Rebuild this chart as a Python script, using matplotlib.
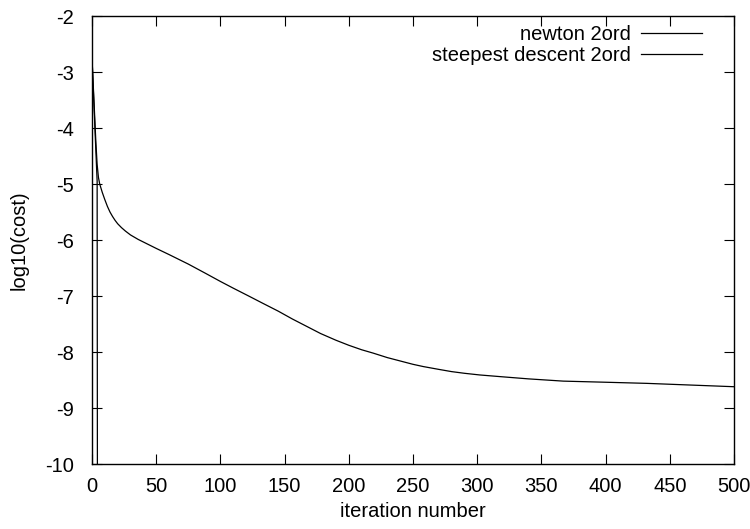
import numpy as np
import matplotlib
matplotlib.use('Agg')
import matplotlib.pyplot as plt

plt.rcParams['font.family'] = ['Liberation Sans', 'DejaVu Sans']
plt.rcParams['axes.unicode_minus'] = False

# newton 2ord (drops off the bottom of the plot after a few iterations)
newton_it = [0, 1, 2, 3, 4, 5]
newton_cost = [-2.75, -3.3, -3.85, -4.4, -4.95, -30.0]

# steepest descent 2ord
sd_it = [0, 1, 2, 3, 4, 5, 6, 8, 10, 12, 14, 16, 18, 20, 23, 26, 30, 36,
         43, 50, 60, 75, 88, 100, 110, 122, 133, 145, 156, 167, 178, 190,
         200, 210, 219, 230, 240, 250, 258, 270, 280, 290, 302, 318, 340,
         367, 400, 432, 466, 500]
sd_cost = [-2.75, -3.25, -3.75, -4.25, -4.65, -4.88, -5.0, -5.15, -5.28,
           -5.4, -5.5, -5.58, -5.65, -5.71, -5.78, -5.84, -5.91, -5.99,
           -6.07, -6.15, -6.26, -6.43, -6.59, -6.74, -6.86, -7.0, -7.13,
           -7.27, -7.41, -7.54, -7.67, -7.79, -7.88, -7.96, -8.02, -8.1,
           -8.16, -8.22, -8.26, -8.31, -8.35, -8.38, -8.41, -8.44, -8.48,
           -8.52, -8.54, -8.56, -8.59, -8.62]

fs = 14.5

fig = plt.figure(figsize=(7.5, 5.29), dpi=100)
ax = fig.add_axes([92/750, 1 - 464/529, (734-92)/750, (464-16)/529])

ax.plot(newton_it, newton_cost, color='black', lw=0.9, label='newton 2ord')
ax.plot(sd_it, sd_cost, color='black', lw=0.9, label='steepest descent 2ord')

ax.set_xlim(0, 500)
ax.set_ylim(-10, -2)
ax.set_xticks(np.arange(0, 501, 50))
ax.set_yticks(np.arange(-10, -1, 1))
ax.tick_params(direction='in', length=7, width=0.8, top=True, right=True,
               labelsize=fs)
ax.tick_params(axis='x', pad=9)
ax.tick_params(axis='y', pad=13)
for s in ax.spines.values():
    s.set_linewidth(1.0)

ax.set_xlabel('iteration number', fontsize=fs, labelpad=5)
ax.set_ylabel('log10(cost)', fontsize=fs, labelpad=12)

ax.legend(loc='upper right', frameon=False, markerfirst=False, fontsize=fs,
          handlelength=3.0, handletextpad=0.55, labelspacing=0.1,
          borderpad=0, borderaxespad=0, bbox_to_anchor=(0.950, 0.980))

fig.savefig('out.png', dpi=100)
